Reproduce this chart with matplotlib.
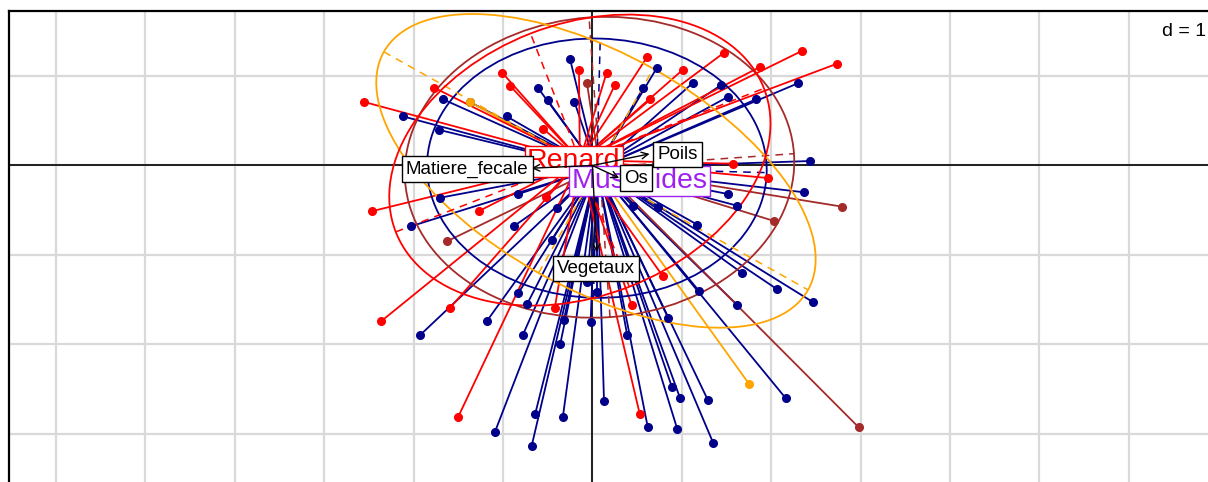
import numpy as np
import matplotlib.pyplot as plt
from matplotlib.patches import Ellipse

plt.rcParams['font.family'] = ['Liberation Sans', 'DejaVu Sans']

# class scores (points of each group) and their centres
red_x = [-2.55, -1.77, -1.01, -0.92, -0.15, -0.55, 0.16, 0.25, 0.61, 0.65, 1.01, 1.47, 1.87, 2.34,
         2.74, 1.57, 1.96, -2.46, -1.27, -0.52, -2.36, -1.59, -0.42, -1.50, 0.79, 0.44, 0.53]
red_y = [0.71, 0.87, 1.04, 0.89, 1.07, 0.41, 1.04, 0.90, 1.21, 0.74, 1.07, 1.26, 1.10, 1.28,
         1.14, 0.02, -0.14, -0.51, -0.51, -0.35, -1.74, -1.59, -1.59, -2.81, -1.24, -1.56, -2.78]
navy_x = [-1.67, -2.12, -1.72, -1.37, -0.96, -0.25, -0.61, -0.50, -0.20, 0.72, 0.57, 1.12, 1.44,
          1.52, 2.30, 1.83, 2.43, -2.03, -1.70, -0.83, -0.88, -0.40, -0.45, -1.18, -0.83, -0.73,
          -0.32, -0.06, 0.05, -0.02, 1.52, 2.37, 1.62, 0.45, 0.73, 1.17, 1.67, 2.06, 2.47, 1.19,
          1.62, 0.85, -1.93, -0.78, -1.09, -0.64, -0.68, -0.36, -0.33, 0.13, 0.39, 0.62, 0.89,
          0.98, 0.95, 1.29, 1.35, 2.16]
navy_y = [0.74, 0.55, 0.40, 0.71, 0.55, 1.19, 0.87, 0.73, 0.71, 1.09, 0.87, 0.92, 0.90, 0.77,
          0.92, 0.74, 0.05, -0.68, -0.36, -0.32, -0.68, -0.48, -0.83, -1.74, -1.43, -1.55,
          -1.73, -1.30, -1.42, -1.75, -0.32, -0.30, -0.45, -0.45, -0.46, -0.66, -1.20, -1.38,
          -1.53, -1.40, -1.56, -1.71, -1.90, -1.90, -2.98, -2.78, -3.14, -2.00, -2.81, -2.63,
          -1.90, -2.93, -2.48, -2.60, -2.95, -2.62, -3.10, -2.60]
brown_x = [-0.06, -1.63, 2.79, 2.03, 2.98]
brown_y = [0.92, -0.85, -0.46, -0.62, -2.93]
orange_x = [1.75, -1.37]
orange_y = [-2.44, 0.71]

groups = ['navy', 'brown', 'orange', 'red']
group_x = {'navy': navy_x, 'brown': brown_x, 'orange': orange_x, 'red': red_x}
group_y = {'navy': navy_y, 'brown': brown_y, 'orange': orange_y, 'red': red_y}
centre_x = {'navy': 0.05, 'brown': 0.08, 'orange': 0.04, 'red': -0.14}
centre_y = {'navy': -0.03, 'brown': -0.02, 'orange': -0.06, 'red': 0.06}
# ellipse: semi-axes and angle (deg)
ell_a = {'navy': 1.90, 'brown': 2.18, 'orange': 2.72, 'red': 2.21}
ell_b = {'navy': 1.45, 'brown': 1.68, 'orange': 1.31, 'red': 1.52}
ell_ang = {'navy': -1.5, 'brown': 4.0, 'orange': -29.3, 'red': 21.3}
colors = {'navy': '#00008B', 'brown': '#A52A2A', 'orange': '#FFA500', 'red': '#FF0000'}

# arrows (variables)
arrow_names = ['Matiere_fecale', 'Poils', 'Os', 'Vegetaux']
arrow_x = [-0.68, 0.64, 0.30, 0.05]
arrow_y = [-0.03, 0.13, -0.14, -0.97]
label_x = [-1.40, 0.95, 0.49, 0.04]
label_y = [-0.04, 0.12, -0.14, -1.15]

class_names = ['Renard', 'Mustelides']
class_lx = [-0.21, 0.53]
class_ly = [0.045, -0.175]
class_cols = ['#FF0000', '#A020F0']

fig = plt.figure(figsize=(12.08, 4.82), dpi=100)
W, H = 1208, 482
ax = fig.add_axes([8.5 / W, 0, 1 - 8.5 / W, 1 - 11 / H])
ax.set_xlim(-6.53, 6.885)
ax.set_ylim(-3.54, 1.728)

for g in range(-6, 7):
    ax.axvline(g, color='#D9D9D9', lw=1.6, zorder=0)
for g in range(-3, 2):
    ax.axhline(g, color='#D9D9D9', lw=1.6, zorder=0)
ax.axhline(0, color='black', lw=1.2, zorder=1)
ax.axvline(0, color='black', lw=1.2, zorder=1)

for grp in groups:
    c = colors[grp]
    cx, cy = centre_x[grp], centre_y[grp]
    for px, py in zip(group_x[grp], group_y[grp]):
        ax.plot([cx, px], [cy, py], color=c, lw=1.3, zorder=2)

for grp in groups:
    c = colors[grp]
    cx, cy = centre_x[grp], centre_y[grp]
    a, b, t = ell_a[grp], ell_b[grp], np.deg2rad(ell_ang[grp])
    ax.add_patch(Ellipse((cx, cy), 2 * a, 2 * b, angle=ell_ang[grp], fill=False,
                         ec=c, lw=1.3, zorder=3))
    ax.plot([cx - a * np.cos(t), cx + a * np.cos(t)], [cy - a * np.sin(t), cy + a * np.sin(t)],
            color=c, lw=1.1, ls=(0, (5, 4)), zorder=3)
    ax.plot([cx + b * np.sin(t), cx - b * np.sin(t)], [cy - b * np.cos(t), cy + b * np.cos(t)],
            color=c, lw=1.1, ls=(0, (5, 4)), zorder=3)

for grp in groups:
    ax.plot(group_x[grp], group_y[grp], 'o', color=colors[grp], ms=5.5, zorder=4)

for name, lx, ly, col in zip(class_names, class_lx, class_ly, class_cols):
    ax.text(lx, ly, name, color=col, fontsize=20.5, ha='center', va='center', zorder=5,
            bbox=dict(boxstyle='square,pad=0.08', fc='white', ec=col, lw=1.0))

for name, ex, ey, lx, ly in zip(arrow_names, arrow_x, arrow_y, label_x, label_y):
    ax.annotate('', xy=(ex, ey), xytext=(0, 0), zorder=6,
                arrowprops=dict(arrowstyle='->', color='black', lw=1.0,
                                shrinkA=0, shrinkB=0, mutation_scale=12))
    ax.text(lx, ly, name, fontsize=13.5, ha='center', va='center', zorder=7,
            bbox=dict(boxstyle='square,pad=0.22', fc='white', ec='black', lw=1.0))

ax.set_xticks([])
ax.set_yticks([])
ax.spines['right'].set_visible(False)
ax.spines['bottom'].set_visible(False)
ax.spines['left'].set_linewidth(1.6)
ax.spines['top'].set_linewidth(1.6)

fig.text(1206 / W, 1 - 31 / H, 'd = 1', fontsize=14, ha='right', va='center')

fig.savefig('out.png', dpi=100)
